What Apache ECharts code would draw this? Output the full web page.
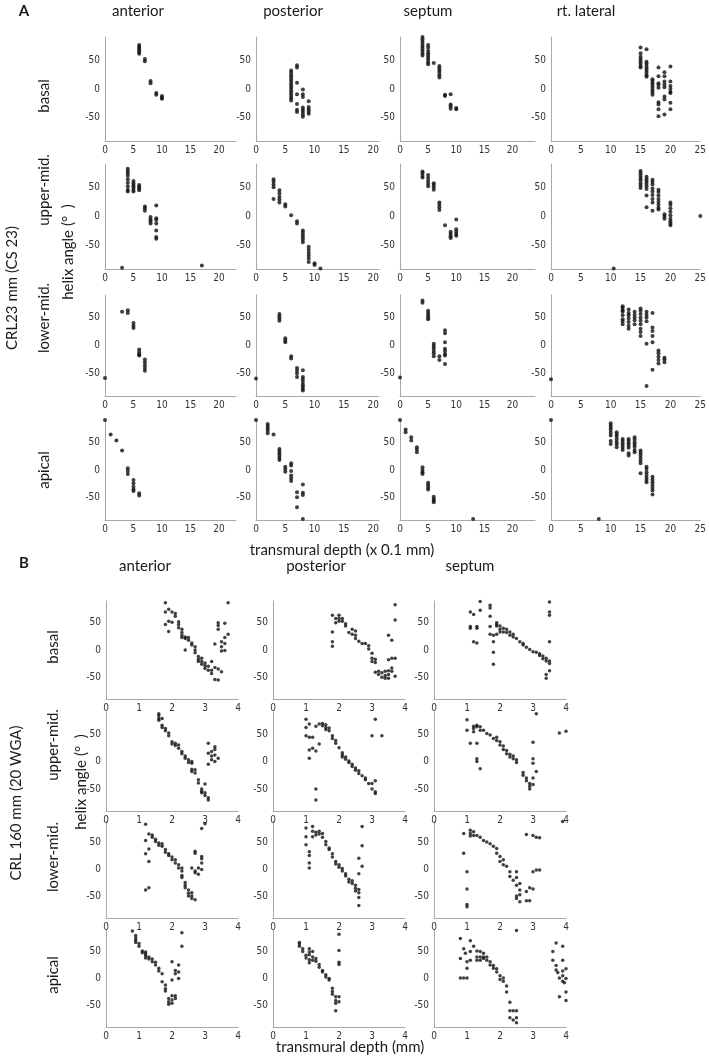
<!DOCTYPE html>
<html><head><meta charset="utf-8">
<script src="https://cdn.jsdelivr.net/npm/echarts@6/dist/echarts.min.js"></script>
<style>html,body{margin:0;padding:0;background:#fff}#c{width:709px;height:1057px}</style>
</head><body><div id="c"></div>
<script>
// ---------------- DATA ----------------
const A_COLS = ['anterior', 'posterior', 'septum', 'rt. lateral'];
const B_COLS = ['anterior', 'posterior', 'septum'];
const ROWS = ['basal', 'upper-mid.', 'lower-mid.', 'apical'];
const Y_TICKS = [-50, 0, 50];
const A_X_MAX = [23, 21, 24, 25];
const B_X_MAX = [4, 4, 4];

// Part A (CRL23 mm) transmural depth (x0.1 mm), helix angle (deg)
const A_basal_anterior = [[6,76],[6,73],[6,70],[6,67],[6,64],[6,61],[7,52],[7,48],[8,14],[8,10],[9,-7],[9,-10],[10,-12],[10,-15],[10,-17]];
const A_basal_posterior = [[6,32],[6,28],[6,24],[6,20],[6,16],[6,12],[6,8],[6,4],[6,0],[6,-4],[6,-8],[6,-12],[6,-16],[6,-20],[7,41],[7,37],[7,11],[7,-9],[7,-26],[7,-36],[7,-40],[8,-1],[8,-9],[8,-14],[8,-32],[8,-36],[8,-40],[8,-44],[8,-48],[9,-21],[9,-31],[9,-35],[9,-39],[9,-43]];
const A_basal_septum = [[4,90],[4,86],[4,82],[4,78],[4,74],[4,70],[4,66],[4,62],[4,58],[5,76],[5,72],[5,66],[5,62],[5,58],[5,54],[5,50],[5,46],[5,43],[6,45],[7,40],[7,36],[7,32],[7,28],[7,24],[7,20],[8,-10],[8,-12],[9,-9],[9,-27],[9,-30],[9,-34],[10,-33],[10,-35]];
const A_basal_rtlat = [[15,72],[15,62],[15,56],[15,52],[15,48],[15,44],[15,40],[15,37],[16,69],[16,47],[16,44],[16,40],[16,36],[16,32],[16,28],[16,24],[16,21],[17,17],[17,14],[17,10],[17,6],[17,2],[17,-2],[17,-6],[17,-10],[18,37],[18,22],[18,10],[18,7],[18,2],[18,-23],[18,-27],[18,-35],[18,-47],[19,29],[19,22],[19,13],[19,8],[19,3],[19,-13],[19,-18],[19,-44],[20,39],[20,13],[20,5],[20,0],[20,-5],[20,-7],[20,-24],[20,-35]];

const A_upper_anterior = [[3,-88],[4,82],[4,78],[4,74],[4,70],[4,64],[4,58],[4,52],[4,46],[4,43],[5,61],[5,57],[5,53],[5,50],[5,46],[5,43],[6,54],[6,51],[6,48],[6,45],[7,17],[7,14],[7,10],[8,-1],[8,-5],[8,-8],[8,-12],[9,19],[9,-3],[9,-6],[9,-12],[9,-24],[9,-35],[9,-38],[17,-84]];
const A_upper_posterior = [[3,64],[3,60],[3,55],[3,50],[3,30],[4,45],[4,40],[4,34],[4,29],[4,24],[5,21],[5,17],[6,2],[7,-8],[7,-12],[8,-24],[8,-28],[8,-32],[8,-36],[8,-40],[8,-44],[9,-52],[9,-57],[9,-62],[9,-67],[9,-72],[9,-78],[10,-80],[10,-83],[11,-89]];
const A_upper_septum = [[4,77],[4,74],[4,70],[4,67],[5,71],[5,66],[5,61],[5,56],[5,52],[6,57],[6,54],[6,50],[6,46],[7,24],[7,20],[7,16],[7,11],[8,-15],[9,-26],[9,-30],[9,-34],[9,-37],[10,-5],[10,-22],[10,-26],[10,-30],[10,-33]];
const A_upper_rtlat = [[10.5,-89],[15,78],[15,74],[15,70],[15,66],[15,62],[15,57],[15,53],[15,49],[16,68],[16,64],[16,60],[16,56],[16,52],[16,47],[16,36],[16,16],[17,63],[17,59],[17,55],[17,48],[17,43],[17,37],[17,30],[17,24],[17,10],[18,46],[18,42],[18,36],[18,30],[18,25],[18,20],[18,15],[18,12],[19,4],[19,0],[19,-4],[20,24],[20,20],[20,14],[20,8],[20,2],[20,-4],[20,-8],[20,-12],[20,-15],[25,1]];

const A_lower_anterior = [[0,-58],[3,60],[4,63],[4,58],[5,40],[5,35],[5,31],[6,-7],[6,-12],[6,-16],[6,-18],[7,-25],[7,-30],[7,-35],[7,-40],[7,-45]];
const A_lower_posterior = [[0,-59],[4,56],[4,52],[4,48],[4,44],[5,13],[5,9],[5,6],[6,-19],[6,-23],[7,-40],[7,-45],[7,-50],[7,-56],[8,-44],[8,-56],[8,-60],[8,-65],[8,-70],[8,-73],[8,-77],[8,-80]];
const A_lower_septum = [[0,-57],[4,80],[4,76],[5,62],[5,58],[5,54],[5,50],[5,47],[6,3],[6,-1],[6,-5],[6,-10],[6,-14],[6,-19],[7,-19],[7,-26],[8,27],[8,22],[8,6],[8,-6],[8,-10],[8,-15],[8,-18],[8,-33]];
const A_lower_rtlat = [[0,-60],[12,70],[12,67],[12,63],[12,60],[12,54],[12,47],[12,43],[12,38],[13,64],[13,58],[13,54],[13,48],[13,42],[13,35],[13,30],[14,60],[14,55],[14,50],[14,45],[14,38],[15,66],[15,62],[15,56],[15,50],[15,44],[15,38],[15,30],[15,24],[15,17],[16,60],[16,55],[16,50],[16,43],[16,3],[16,-72],[17,58],[17,32],[17,26],[17,17],[17,6],[17,-43],[18,-9],[18,-14],[18,-20],[18,-26],[18,-32],[19,-22],[19,-25],[19,-30]];

const A_apical_anterior = [[0,90],[1,64],[2,53],[3,35],[4,3],[4,-2],[4,-7],[5,-18],[5,-24],[5,-30],[5,-35],[5,-38],[6,-42],[6,-46]];
const A_apical_posterior = [[0,90],[2,83],[2,79],[2,75],[2,71],[2,66],[3,64],[4,38],[4,34],[4,30],[4,26],[4,22],[4,18],[5,6],[5,2],[5,-3],[6,12],[6,8],[6,-2],[6,-10],[6,-15],[6,-20],[7,-40],[7,-49],[7,-67],[8,-26],[8,-41],[8,-45],[8,-88]];
const A_apical_septum = [[0,90],[1,73],[1,68],[2,59],[2,53],[3,41],[3,37],[3,32],[4,5],[4,0],[4,-4],[4,-7],[5,-23],[5,-27],[5,-31],[5,-35],[6,-48],[6,-52],[6,-55],[6,-58],[13,-88]];
const A_apical_rtlat = [[0,90],[8,-88],[10,84],[10,80],[10,76],[10,72],[10,67],[10,62],[10,52],[10,47],[11,68],[11,64],[11,60],[11,55],[11,50],[11,46],[11,41],[12,56],[12,52],[12,48],[12,44],[12,40],[12,36],[13,56],[13,52],[13,48],[13,44],[13,40],[13,30],[13,26],[14,59],[14,55],[14,50],[14,46],[14,42],[14,36],[14,32],[15,35],[15,31],[15,27],[15,22],[15,17],[15,12],[15,-6],[16,6],[16,2],[16,-4],[16,-9],[16,-14],[16,-18],[16,-22],[17,-12],[17,-17],[17,-22],[17,-27],[17,-32],[17,-37],[17,-44]];

// Part B (CRL 160 mm) transmural depth (mm), helix angle (deg)
const B_basal_anterior = [[1.8,87],[1.8,70],[1.8,47],[1.9,75],[1.9,53],[1.9,34],[2.0,70],[2.0,51],[2.1,67],[2.1,62],[2.2,52],[2.2,47],[2.2,41],[2.3,38],[2.3,32],[2.3,27],[2.3,23],[2.4,24],[2.4,21],[2.4,0],[2.5,23],[2.5,18],[2.6,13],[2.6,9],[2.7,6],[2.7,0],[2.7,-5],[2.8,-12],[2.8,-17],[2.8,-21],[2.9,-15],[2.9,-21],[2.9,-26],[3.0,-24],[3.0,-29],[3.0,-34],[3.1,-30],[3.1,-37],[3.2,-21],[3.2,-37],[3.2,-43],[3.3,-32],[3.3,-54],[3.4,-35],[3.4,-55],[3.5,-40],[3.3,11],[3.4,50],[3.4,45],[3.4,38],[3.5,15],[3.5,6],[3.5,-2],[3.6,49],[3.6,23],[3.6,12],[3.6,-1],[3.7,29],[3.7,87]];
const B_basal_posterior = [[1.8,64],[1.8,33],[1.8,15],[1.8,7],[1.9,58],[1.9,50],[2.0,64],[2.0,58],[2.0,53],[2.1,58],[2.1,53],[2.2,48],[2.2,44],[2.3,32],[2.4,38],[2.4,29],[2.5,35],[2.5,27],[2.5,21],[2.6,16],[2.7,12],[2.8,12],[2.9,8],[2.9,2],[3.0,-6],[3.0,-15],[3.0,-21],[3.1,-17],[3.1,-23],[3.1,-41],[3.2,-39],[3.2,-45],[3.3,-42],[3.3,-50],[3.4,-39],[3.4,-47],[3.4,-52],[3.5,-38],[3.5,-45],[3.5,-52],[3.6,-39],[3.7,-48],[3.5,27],[3.6,18],[3.5,-18],[3.6,-15],[3.6,-33],[3.7,-15],[3.7,55],[3.7,83]];
const B_basal_septum = [[1.1,70],[1.2,65],[1.4,89],[1.4,73],[1.7,82],[1.7,77],[1.7,62],[1.1,43],[1.1,40],[1.3,43],[1.3,40],[1.2,15],[1.3,13],[1.7,43],[1.7,29],[1.8,27],[1.8,15],[1.8,-4],[1.8,-26],[1.9,50],[1.9,47],[1.9,44],[1.9,29],[2.0,44],[2.0,38],[2.0,33],[2.1,40],[2.1,33],[2.2,38],[2.2,32],[2.3,33],[2.3,27],[2.4,29],[2.4,24],[2.5,21],[2.6,15],[2.7,12],[2.7,9],[2.8,5],[2.9,1],[3.0,-3],[3.1,-4],[3.2,-7],[3.2,-10],[3.3,-11],[3.3,-16],[3.4,-15],[3.4,-20],[3.5,-20],[3.4,-45],[3.4,-52],[3.5,-38],[3.5,-25],[3.5,15],[3.5,88],[3.5,70],[3.5,64]];

const B_upper_anterior = [[1.6,87],[1.6,83],[1.6,78],[1.6,75],[1.7,78],[1.7,66],[1.7,62],[1.8,60],[1.8,56],[1.9,52],[1.9,47],[2.0,36],[2.0,32],[2.1,33],[2.1,29],[2.2,30],[2.2,24],[2.3,18],[2.3,14],[2.4,10],[2.4,6],[2.5,3],[2.5,-2],[2.6,0],[2.6,-3],[2.6,-14],[2.6,-18],[2.7,-15],[2.7,-21],[2.8,-33],[2.8,-39],[2.9,-50],[2.9,-54],[2.9,-57],[3.0,-41],[3.0,-57],[3.0,-62],[3.1,-66],[3.1,-70],[3.1,33],[3.1,15],[3.1,-5],[3.2,18],[3.2,10],[3.2,3],[3.3,27],[3.3,22],[3.3,12],[3.3,0],[3.4,6]];
const B_upper_posterior = [[1.0,77],[1.0,62],[1.0,47],[1.1,68],[1.1,44],[1.1,21],[1.1,6],[1.2,44],[1.2,24],[1.3,64],[1.3,19],[1.3,-50],[1.3,-70],[1.4,68],[1.4,32],[1.5,69],[1.5,65],[1.6,67],[1.6,62],[1.6,58],[1.7,61],[1.7,56],[1.8,47],[1.8,42],[1.9,38],[1.9,33],[2.0,25],[2.1,16],[2.1,12],[2.1,8],[2.2,8],[2.2,4],[2.3,1],[2.3,-2],[2.4,-5],[2.4,-9],[2.5,-12],[2.5,-16],[2.6,-17],[2.6,-22],[2.7,-26],[2.8,-30],[2.8,-33],[2.9,-40],[3.0,-50],[3.0,-40],[3.1,-55],[3.1,-58],[3.1,-35],[3.0,47],[3.1,77],[3.3,47]];
const B_upper_septum = [[1.0,76],[1.0,57],[1.2,64],[1.2,60],[1.2,54],[1.3,66],[1.3,63],[1.4,63],[1.4,57],[1.5,57],[1.6,51],[1.7,48],[1.1,33],[1.3,33],[1.3,5],[1.3,0],[1.4,-13],[1.8,42],[1.9,44],[1.9,38],[2.0,36],[2.0,30],[2.1,28],[2.1,22],[2.2,20],[2.2,14],[2.3,13],[2.3,8],[2.4,10],[2.4,5],[2.5,3],[2.5,-2],[2.7,-20],[2.7,-25],[2.8,-30],[2.8,-35],[2.9,-40],[2.9,-45],[2.9,-50],[3.0,-42],[3.0,35],[3.0,5],[3.0,-3],[3.0,-30],[3.1,-18],[3.1,87],[3.8,52],[4.0,55]];

const B_lower_anterior = [[1.2,84],[1.2,54],[1.2,29],[1.2,-38],[1.3,66],[1.3,38],[1.3,15],[1.3,-34],[1.4,64],[1.4,60],[1.5,56],[1.5,52],[1.6,49],[1.6,45],[1.7,48],[1.7,43],[1.8,37],[1.8,32],[1.9,29],[1.9,26],[2.0,23],[2.0,18],[2.1,18],[2.1,12],[2.2,9],[2.2,3],[2.3,-3],[2.3,-11],[2.3,-15],[2.4,-24],[2.4,-29],[2.4,-34],[2.5,-38],[2.5,-44],[2.5,-49],[2.6,-43],[2.6,-49],[2.6,-54],[2.7,-56],[2.3,3],[2.6,3],[2.7,34],[2.7,30],[2.7,-3],[2.7,-6],[2.8,3],[2.8,-9],[2.9,24],[2.9,20],[2.9,12],[2.9,0],[2.9,76],[3.0,85]];
const B_lower_posterior = [[1.0,77],[1.0,61],[1.0,46],[1.1,33],[1.1,26],[1.1,12],[1.1,3],[1.2,80],[1.2,71],[1.2,61],[1.3,69],[1.3,64],[1.4,71],[1.4,66],[1.5,67],[1.5,60],[1.6,52],[1.6,46],[1.7,40],[1.7,37],[1.8,29],[1.8,23],[1.9,15],[1.9,10],[2.0,9],[2.0,4],[2.1,2],[2.1,-3],[2.2,-8],[2.2,-12],[2.3,-18],[2.3,-23],[2.4,-21],[2.4,-26],[2.5,-29],[2.5,-35],[2.5,-40],[2.6,-37],[2.6,-43],[2.6,21],[2.6,-8],[2.6,-52],[2.6,-67],[2.7,80],[2.7,44],[2.7,6]];
const B_lower_septum = [[0.9,67],[0.9,30],[1.0,-4],[1.0,-36],[1.0,-65],[1.0,-69],[1.1,73],[1.1,67],[1.1,62],[1.2,70],[1.2,63],[1.3,63],[1.4,60],[1.5,54],[1.6,51],[1.7,48],[1.8,43],[1.9,39],[1.9,30],[2.0,24],[2.0,15],[2.1,18],[2.1,9],[2.2,6],[2.3,-4],[2.3,-13],[2.4,-20],[2.5,-4],[2.5,-15],[2.5,-29],[2.5,-49],[2.5,-54],[2.6,-26],[2.6,-38],[2.6,-47],[2.6,-60],[2.8,-41],[2.8,-58],[2.9,-34],[2.9,-58],[3.0,-4],[3.0,-36],[3.1,-1],[3.2,-1],[2.8,65],[3.0,63],[3.1,60],[3.2,59],[3.9,89]];

const B_apical_anterior = [[0.8,88],[0.9,80],[0.9,75],[0.9,71],[0.9,67],[1.0,65],[1.0,60],[1.1,51],[1.1,48],[1.2,49],[1.2,46],[1.2,42],[1.2,38],[1.3,40],[1.3,36],[1.4,36],[1.4,31],[1.5,30],[1.5,25],[1.6,19],[1.6,14],[1.7,9],[1.7,-6],[1.8,-12],[1.8,-19],[1.8,-23],[1.9,-37],[1.9,-43],[1.9,-48],[2.0,-32],[2.0,-40],[2.0,-46],[2.1,-32],[2.1,-37],[2.0,31],[2.0,-3],[2.1,15],[2.1,9],[2.2,25],[2.2,12],[2.2,0],[2.3,85],[2.3,60]];
const B_apical_posterior = [[0.8,67],[0.8,64],[0.8,60],[0.9,55],[0.9,50],[1.0,43],[1.0,38],[1.1,55],[1.1,49],[1.1,44],[1.1,35],[1.1,29],[1.2,50],[1.2,40],[1.2,34],[1.3,37],[1.3,32],[1.4,26],[1.4,21],[1.5,15],[1.5,12],[1.6,7],[1.6,3],[1.7,0],[1.7,-3],[1.8,-18],[1.8,-24],[1.8,-29],[1.9,-34],[1.9,-41],[1.9,-46],[1.9,-60],[2.0,-34],[2.0,-43],[2.0,82],[2.0,52],[2.0,30],[2.0,26]];
const B_apical_septum = [[0.8,74],[0.8,37],[0.8,1],[0.9,1],[1.0,1],[0.9,55],[0.95,47],[1.0,31],[1.0,19],[1.1,70],[1.1,50],[1.1,34],[1.2,60],[1.3,51],[1.3,40],[1.3,34],[1.4,50],[1.4,40],[1.4,34],[1.5,47],[1.5,40],[1.5,37],[1.6,40],[1.6,34],[1.7,31],[1.7,25],[1.8,24],[1.8,19],[1.9,18],[1.9,12],[2.0,5],[2.0,-2],[2.1,1],[2.1,-5],[2.2,-14],[2.2,-25],[2.3,-44],[2.3,-60],[2.3,-73],[2.4,-60],[2.4,-77],[2.5,-60],[2.5,-73],[2.5,-82],[2.5,89],[3.6,50],[3.6,34],[3.7,66],[3.7,24],[3.7,16],[3.75,11],[3.8,1],[3.8,-34],[3.9,34],[3.9,14],[3.9,5],[3.9,-5],[3.9,60],[3.95,-8],[4.0,18],[4.0,0],[4.0,-25],[4.0,-41]];

const A_DATA = [
  [A_basal_anterior, A_basal_posterior, A_basal_septum, A_basal_rtlat],
  [A_upper_anterior, A_upper_posterior, A_upper_septum, A_upper_rtlat],
  [A_lower_anterior, A_lower_posterior, A_lower_septum, A_lower_rtlat],
  [A_apical_anterior, A_apical_posterior, A_apical_septum, A_apical_rtlat]
];
const B_DATA = [
  [B_basal_anterior, B_basal_posterior, B_basal_septum],
  [B_upper_anterior, B_upper_posterior, B_upper_septum],
  [B_lower_anterior, B_lower_posterior, B_lower_septum],
  [B_apical_anterior, B_apical_posterior, B_apical_septum]
];

// ---------------- LAYOUT ----------------
const A_LEFT = [105, 256, 400, 551], A_WIDTH = [131, 123, 135, 150];
const A_TOP = [37, 164, 295, 420], A_HEIGHT = [104, 105, 101, 100];
const B_LEFT = [106, 273, 434], B_WIDTH = [132, 132, 132];
const B_TOP = [601, 712, 821, 930], B_HEIGHT = [98, 99, 97, 97];

const TICK_FONT = "'Liberation Sans Narrow','DejaVu Sans Condensed',sans-serif";
const grids = [], xAxes = [], yAxes = [], series = [];

function addPanel(data, left, top, width, height, xmax, xInt, xStep, sym) {
  const i = grids.length;
  grids.push({left, top, width, height, containLabel: false});
  xAxes.push({
    type: 'value', gridIndex: i, min: 0, max: xmax, interval: xInt,
    axisLine: {show: true, onZero: false, lineStyle: {color: '#a8a8a8', width: 1}},
    axisTick: {show: false}, splitLine: {show: false},
    axisLabel: {margin: 4, fontSize: 10, color: '#333', fontFamily: TICK_FONT,
      formatter: v => (Math.abs(v / xStep - Math.round(v / xStep)) < 1e-6 ? String(v) : '')}
  });
  yAxes.push({
    type: 'value', gridIndex: i, min: -90, max: 90, interval: 10,
    axisLine: {show: true, onZero: false, lineStyle: {color: '#a8a8a8', width: 1}},
    axisTick: {show: false}, splitLine: {show: false},
    axisLabel: {margin: 5, fontSize: 10, color: '#333', fontFamily: TICK_FONT,
      formatter: v => (Y_TICKS.includes(v) ? String(v) : '')}
  });
  series.push({
    type: 'scatter', xAxisIndex: i, yAxisIndex: i, data, clip: false,
    symbol: 'circle', symbolSize: sym, itemStyle: {color: '#111'},
    silent: true, animation: false
  });
}

for (let r = 0; r < 4; r++) for (let c = 0; c < 4; c++)
  addPanel(A_DATA[r][c], A_LEFT[c], A_TOP[r], A_WIDTH[c], A_HEIGHT[r], A_X_MAX[c], 5, 5, 4);
for (let r = 0; r < 4; r++) for (let c = 0; c < 3; c++)
  addPanel(B_DATA[r][c], B_LEFT[c], B_TOP[r], B_WIDTH[c], B_HEIGHT[r], B_X_MAX[c], 1, 1, 3.5);

const TXT = "Lato, 'Open Sans', sans-serif";
function txt(text, x, y, size, opts = {}) {
  return {type: 'text', x, y, rotation: opts.rot || 0, silent: true,
    style: {text, font: (opts.bold ? 'bold ' : '') + size + 'px ' + TXT, fill: '#1a1a1a',
      align: 'center', verticalAlign: 'middle'}};
}
const R = Math.PI / 2;
const A_COL_X = [138, 293, 428, 586];
const B_COL_X = [145, 316, 470];
const A_ROW_Y = [96, 190, 318, 470];
const B_ROW_Y = [647, 745, 857, 975];
const graphics = [
  txt('A', 24, 11, 15, {bold: true}),
  txt('B', 24, 563, 15, {bold: true}),
  txt('transmural depth (x 0.1 mm)', 342, 550, 15),
  txt('transmural depth (mm)', 350, 1047, 15),
  txt('helix angle (°  )', 68, 252, 15, {rot: R}),
  txt('CRL23 mm (CS 23)', 12, 288, 15, {rot: R}),
  txt('helix angle (°  )', 81, 782, 15, {rot: R}),
  txt('CRL 160 mm (20 WGA)', 16, 803, 15, {rot: R})
];
A_COLS.forEach((t, i) => graphics.push(txt(t, A_COL_X[i], 11, 15)));
B_COLS.forEach((t, i) => graphics.push(txt(t, B_COL_X[i], 566, 15)));
ROWS.forEach((t, i) => graphics.push(txt(t, 44, A_ROW_Y[i], 15, {rot: R})));
ROWS.forEach((t, i) => graphics.push(txt(t, 53, B_ROW_Y[i], 15, {rot: R})));

const chart = echarts.init(document.getElementById('c'), null, {renderer: 'canvas'});
chart.setOption({
  animation: false,
  backgroundColor: '#fff',
  grid: grids, xAxis: xAxes, yAxis: yAxes, series,
  graphic: graphics
});
</script></body></html>
